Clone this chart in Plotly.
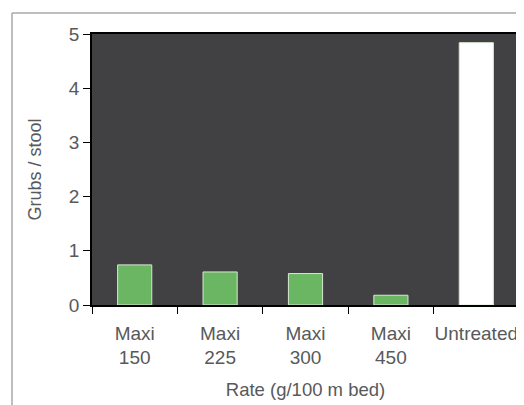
import plotly.graph_objects as go

categories = ["Maxi<br>150", "Maxi<br>225", "Maxi<br>300", "Maxi<br>450", "Untreated"]
grubs = [0.74, 0.61, 0.58, 0.18, 4.84]
bar_colors = ["#6bb663", "#6bb663", "#6bb663", "#6bb663", "#ffffff"]
y_ticks = [0, 1, 2, 3, 4, 5]

OFF = 8  # page body margin
W, H = 524 - OFF, 405 - OFF
L, R, T, B = 92 - OFF, 5, 34 - OFF, 100
pw, ph = W - L - R, H - T - B

fig = go.Figure()
fig.add_trace(go.Bar(
    x=categories, y=grubs,
    marker=dict(color=bar_colors, line=dict(color="#d8e8d4", width=1)),
    width=0.4,
))

font = "Liberation Sans, Arial, Helvetica, sans-serif"
fig.update_layout(
    width=W, height=H,
    margin=dict(l=L, r=R, t=T, b=B, autoexpand=False),
    paper_bgcolor="white",
    plot_bgcolor="#414042",
    showlegend=False,
    font=dict(family=font, color="#58595b", size=19),
    xaxis=dict(
        type="category", tickson="boundaries", ticks="outside", ticklen=7,
        tickcolor="black", showline=True, linecolor="black", linewidth=1.5,
        mirror=True, showgrid=False, tickfont=dict(size=19), tickangle=0,
        automargin=False, ticklabelstandoff=10,
        title=dict(text="Rate (g/100 m bed)", font=dict(size=18.5), standoff=16),
    ),
    yaxis=dict(
        range=[0, 5], tickvals=y_ticks, ticks="outside", ticklen=7,
        tickcolor="black", showline=True, linecolor="black", linewidth=1.5,
        mirror=True, showgrid=False, zeroline=False, tickfont=dict(size=19),
        automargin=False,
        title=dict(text="Grubs / stool", font=dict(size=18), standoff=23),
    ),
)

# outer frame lines (gray)
x_left = (12 - OFF - L) / pw
y_top = 1 + (T - (13 - OFF)) / ph
y_bot = -(H - (T + ph)) / ph - 0.05
x_right = 1 + R / pw + 0.05
fig.add_shape(type="line", xref="paper", yref="paper", x0=x_left, x1=x_left,
              y0=y_bot, y1=y_top, line=dict(color="#a7a9ac", width=1.5))
fig.add_shape(type="line", xref="paper", yref="paper", x0=x_left, x1=x_right,
              y0=y_top, y1=y_top, line=dict(color="#a7a9ac", width=1.5))

fig.write_html("out.html")
